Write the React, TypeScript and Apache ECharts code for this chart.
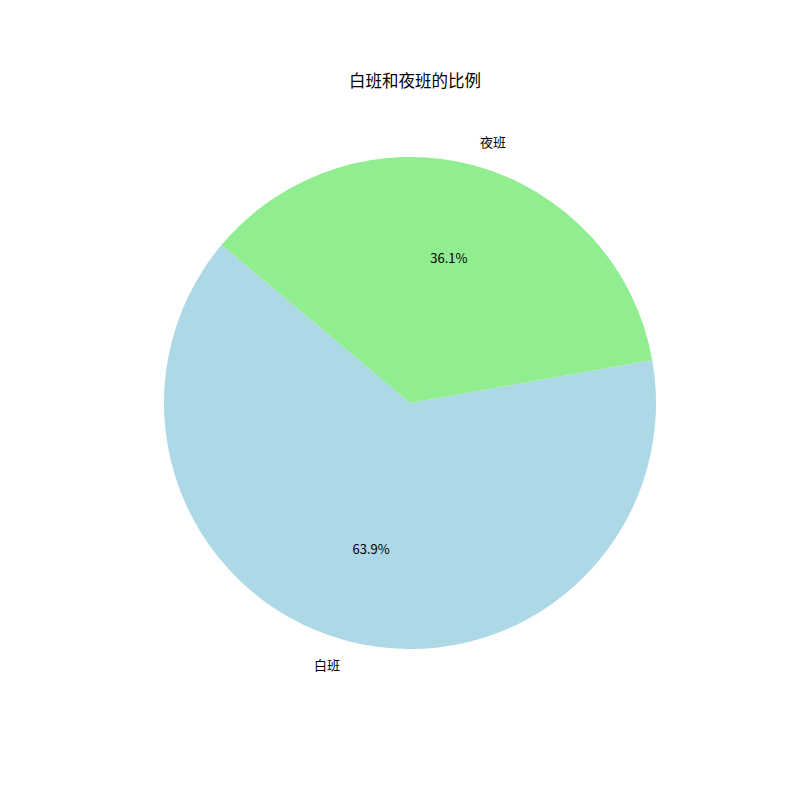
import React, { useEffect, useRef } from "react";
import * as echarts from "echarts";

const categories = ["白班", "夜班"];
const values = [63.9, 36.1];
const colors = ["#ADD8E6", "#90EE90"];
const titleText = "白班和夜班的比例";

const FONT = "'Noto Sans CJK SC', 'Noto Sans', sans-serif";

export default function App() {
  const ref = useRef<HTMLDivElement>(null);
  useEffect(() => {
    if (!ref.current) return;
    const chart = echarts.init(ref.current, undefined, { renderer: "svg" });
    const R = 246;
    const data = categories.map((c, i) => ({
      name: c,
      value: values[i],
      itemStyle: { color: colors[i] },
    }));
    const total = values.reduce((a, b) => a + b, 0);
    chart.setOption({
      animation: false,
      backgroundColor: "#ffffff",
      title: {
        text: titleText,
        left: 410,
        top: 67,
        textAlign: "center",
        textStyle: { fontFamily: FONT, fontSize: 16.5, fontWeight: "normal", color: "#000" },
      },
      series: [
        {
          type: "pie",
          center: [410, 403],
          radius: [0, R],
          startAngle: 140,
          clockwise: false,
          silent: true,
          data,
          label: {
            show: true,
            position: "outside",
            formatter: "{b}",
            fontFamily: FONT,
            fontSize: 13,
            color: "#000",
            distanceToLabelLine: 0,
          },
          labelLine: { show: false, length: R * 0.1, length2: 0 },
        },
        {
          type: "pie",
          center: [410, 403],
          radius: [0, R * 1.2],
          startAngle: 140,
          clockwise: false,
          silent: true,
          data: categories.map((c, i) => ({
            name: c,
            value: values[i],
            itemStyle: { color: "rgba(0,0,0,0)" },
          })),
          label: {
            show: true,
            position: "inside",
            formatter: (p: any) => ((p.value / total) * 100).toFixed(1) + "%",
            fontFamily: FONT,
            fontSize: 13,
            color: "#000",
          },
          labelLine: { show: false },
        },
      ],
    });
    return () => chart.dispose();
  }, []);
  return (
    <div
      ref={ref}
      style={{ position: "absolute", left: 0, top: 0, width: 800, height: 800 }}
    />
  );
}
